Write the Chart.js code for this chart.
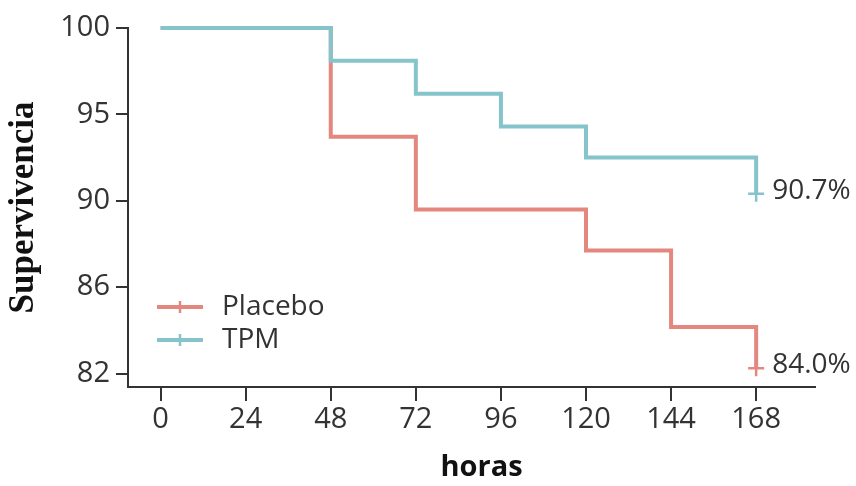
<!DOCTYPE html>
<html><head><meta charset="utf-8">
<script src="https://cdn.jsdelivr.net/npm/chart.js@4.4.1/dist/chart.umd.min.js"></script>
<style>html,body{margin:0;padding:0;background:#fff;overflow:hidden}#wrap{width:856px;height:486px;position:relative}</style>
</head><body><div id="wrap"><canvas id="c"></canvas></div>
<script>
// ---- data ----
const seriesNames = ['Placebo', 'TPM'];
const placeboHours = [0, 48, 72, 120, 144, 168];
const placeboSurv  = [100, 93.7, 89.6, 87.7, 84.15, 82.25];
const tpmHours     = [0, 48, 72, 96, 120, 168];
const tpmSurv      = [100, 98.1, 96.2, 94.3, 92.5, 90.4];
const endLabels    = ['84.0%', '90.7%'];
const xTicks = [0, 24, 48, 72, 96, 120, 144, 168];
const yTicks = [82, 86, 90, 95, 100];
const colors = ['#E3877F', '#85C4CB'];

// y axis whose labelled ticks are evenly spaced (as in the reference)
class EvenTickScale extends Chart.LinearScale {
  buildTicks() { return yTicks.map(v => ({ value: v })); }
  _idx(v) {
    const t = yTicks, n = t.length;
    if (v <= t[0]) return (v - t[0]) / (t[1] - t[0]);
    if (v >= t[n - 1]) return n - 1 + (v - t[n - 1]) / (t[n - 1] - t[n - 2]);
    for (let i = 0; i < n - 1; i++) {
      if (v <= t[i + 1]) return i + (v - t[i]) / (t[i + 1] - t[i]);
    }
    return n - 1;
  }
  getPixelForValue(v) {
    const lo = -0.156, hi = yTicks.length - 1;
    return this.getPixelForDecimal((this._idx(v) - lo) / (hi - lo));
  }
  getValueForPixel(p) {
    const lo = -0.156, hi = yTicks.length - 1;
    const idx = lo + this.getDecimalForPixel(p) * (hi - lo);
    const t = yTicks;
    const i = Math.max(0, Math.min(t.length - 2, Math.floor(idx)));
    return t[i] + (idx - i) * (t[i + 1] - t[i]);
  }
}
EvenTickScale.id = 'eventick';
EvenTickScale.defaults = Chart.LinearScale.defaults;
Chart.register(EvenTickScale);

const toPts = (xs, ys) => xs.map((x, i) => ({ x: x, y: ys[i] }));
const lastOnly = (arr, r) => arr.map((_, i) => i === arr.length - 1 ? r : 0);

const overlay = {
  id: 'overlay',
  afterDatasetsDraw(chart) {
    const ctx = chart.ctx;
    ctx.save();
    ctx.font = '28px "Open Sans"';
    ctx.fillStyle = '#333';
    ctx.textBaseline = 'middle';
    ctx.textAlign = 'left';
    chart.data.datasets.forEach((ds, i) => {
      const meta = chart.getDatasetMeta(i);
      const p = meta.data[meta.data.length - 1];
      ctx.fillText(endLabels[i], p.x + 16, p.y - 3);
    });
    // legend
    const lx0 = 157, lx1 = 203, ly = [307, 340];
    chart.data.datasets.forEach((ds, i) => {
      ctx.strokeStyle = ds.borderColor;
      ctx.lineWidth = 4;
      ctx.beginPath(); ctx.moveTo(lx0, ly[i]); ctx.lineTo(lx1, ly[i]); ctx.stroke();
      ctx.lineWidth = 2.5;
      ctx.beginPath(); ctx.moveTo((lx0 + lx1) / 2, ly[i] - 6); ctx.lineTo((lx0 + lx1) / 2, ly[i] + 6); ctx.stroke();
      ctx.fillStyle = '#333';
      ctx.fillText(ds.label, 222, ly[i]);
    });
    // x axis title, centred where the reference puts it
    const xs = chart.scales.x;
    ctx.font = 'bold 29px "Open Sans"';
    ctx.fillStyle = '#111';
    ctx.textAlign = 'center';
    ctx.fillText(xs.options.title.text, (xs.left + xs.right) / 2 + 10, 468);
    ctx.restore();
  }
};

new Chart(document.getElementById('c'), {
  type: 'line',
  data: {
    datasets: [
      { label: seriesNames[0], data: toPts(placeboHours, placeboSurv), borderColor: colors[0], backgroundColor: colors[0],
        borderWidth: 4, stepped: true, pointStyle: 'cross', pointRadius: lastOnly(placeboHours, 8),
        pointBorderWidth: 2.5, pointBorderColor: colors[0], clip: false, order: 2 },
      { label: seriesNames[1], data: toPts(tpmHours, tpmSurv), borderColor: colors[1], backgroundColor: colors[1],
        borderWidth: 4, stepped: true, pointStyle: 'cross', pointRadius: lastOnly(tpmHours, 8),
        pointBorderWidth: 2.5, pointBorderColor: colors[1], clip: false, order: 1 }
    ]
  },
  options: {
    responsive: true, maintainAspectRatio: false, animation: false, devicePixelRatio: 1,
    layout: { padding: { top: 28, right: 41, left: 0, bottom: 0 } },
    plugins: { legend: { display: false }, tooltip: { enabled: false } },
    scales: {
      x: {
        type: 'linear', min: -9.2, max: 184.6,
        afterBuildTicks: s => { s.ticks = xTicks.map(v => ({ value: v })); },
        afterFit: s => { s.height = 99; },
        grid: { drawOnChartArea: false, tickLength: 14, color: '#333', lineWidth: 2 },
        border: { color: '#333', width: 2 },
        ticks: { font: { family: '"Open Sans"', size: 29 }, color: '#333', padding: 1, maxRotation: 0 },
        title: { display: false, text: 'horas' }
      },
      y: {
        type: 'eventick',
        afterFit: s => { s.width = 128; },
        grid: { drawOnChartArea: false, tickLength: 12, color: '#333', lineWidth: 2 },
        border: { color: '#333', width: 2 },
        ticks: { font: { family: '"Open Sans"', size: 29 }, color: '#333', padding: 6, callback: v => String(v) },
        title: { display: true, text: 'Supervivencia', font: { family: '"Liberation Serif"', size: 35, weight: 'bold' }, color: '#111', padding: { top: 3, bottom: 0 } }
      }
    }
  },
  plugins: [overlay]
});
</script>
</body></html>
